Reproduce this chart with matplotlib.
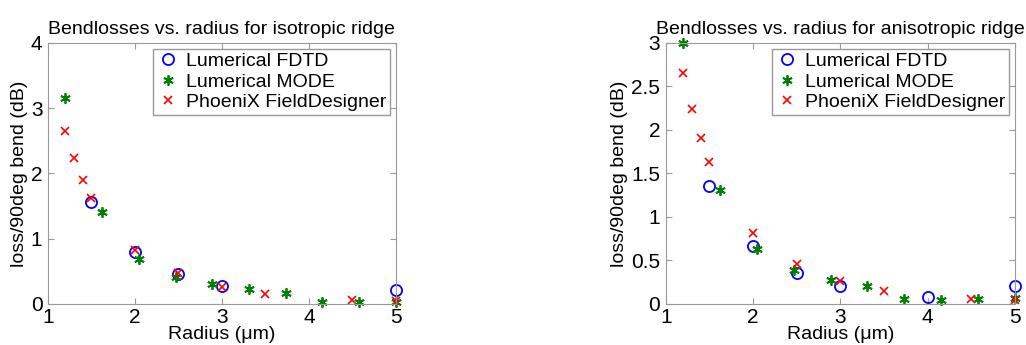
import matplotlib
matplotlib.use("Agg")
import matplotlib.pyplot as plt

plt.rcParams['font.family'] = ['Liberation Sans', 'DejaVu Sans']

# isotropic ridge
iso_fdtd_r = [1.5, 2.0, 2.5, 3.0, 5.0]
iso_fdtd_loss = [1.56, 0.79, 0.46, 0.27, 0.22]
iso_mode_r = [1.2, 1.622, 2.044, 2.467, 2.889, 3.311, 3.733, 4.156, 4.578, 5.0]
iso_mode_loss = [3.15, 1.41, 0.69, 0.41, 0.31, 0.23, 0.16, 0.03, 0.03, 0.035]
iso_phx_r = [1.2, 1.3, 1.4, 1.5, 2.0, 2.5, 3.0, 3.5, 4.5, 5.0]
iso_phx_loss = [2.65, 2.24, 1.90, 1.63, 0.82, 0.47, 0.265, 0.15, 0.06, 0.045]

# anisotropic ridge
ani_fdtd_r = [1.5, 2.0, 2.5, 3.0, 4.0, 5.0]
ani_fdtd_loss = [1.35, 0.67, 0.356, 0.21, 0.08, 0.207]
ani_mode_r = [1.2, 1.622, 2.044, 2.467, 2.889, 3.311, 3.733, 4.156, 4.578, 5.0]
ani_mode_loss = [3.0, 1.31, 0.635, 0.39, 0.276, 0.203, 0.054, 0.05, 0.06, 0.07]
ani_phx_r = [1.2, 1.3, 1.4, 1.5, 2.0, 2.5, 3.0, 3.5, 4.5, 5.0]
ani_phx_loss = [2.65, 2.24, 1.906, 1.626, 0.82, 0.46, 0.264, 0.15, 0.057, 0.042]

labels = ['Lumerical FDTD', 'Lumerical MODE', 'PhoeniX FieldDesigner']
asterisk = (6, 2, 0)


def plot_panel(ax, fdtd, mode, phx, title, ylim, yticks):
    ax.plot(fdtd[0], fdtd[1], 'o', mfc='none', mec='blue', mew=1.3, ms=8, label=labels[0])
    ax.plot(mode[0], mode[1], marker=asterisk, ls='none', mec='green', mfc='green', mew=1.3, ms=7.5, label=labels[1])
    ax.plot(phx[0], phx[1], 'x', color='red', mew=1.2, ms=6, label=labels[2])
    ax.set_xlim(1, 5)
    ax.set_ylim(*ylim)
    ax.set_xticks([1, 2, 3, 4, 5])
    ax.set_yticks(yticks)
    ax.set_yticklabels([f'{t:g}' for t in yticks])
    ax.tick_params(direction='in', top=True, right=True, labelsize=15, length=4,
                   color='#999999')
    ax.tick_params(axis='x', pad=3)
    ax.tick_params(axis='y', pad=4)
    for s in ax.spines.values():
        s.set_color('#999999')
    ax.set_title(title, fontsize=14, pad=6)
    ax.set_xlabel('Radius (\u03bcm)', fontsize=14, labelpad=-1)
    ax.set_ylabel('loss/90deg bend (dB)', fontsize=14, labelpad=2)
    leg = ax.legend(loc='upper right', fontsize=14, fancybox=False, framealpha=1,
                    edgecolor='#999999', handletextpad=0.3, borderpad=0.2,
                    labelspacing=0.15, handlelength=1.2, borderaxespad=0.3)
    leg.get_frame().set_linewidth(1.0)
    for line in ax.get_lines():
        line.set_clip_on(False)


fig = plt.figure(figsize=(10.26, 3.45), dpi=100)
ax1 = fig.add_axes([0.0468, 0.119, 0.339, 0.757])
ax2 = fig.add_axes([0.649, 0.119, 0.340, 0.757])

plot_panel(ax1, (iso_fdtd_r, iso_fdtd_loss), (iso_mode_r, iso_mode_loss),
           (iso_phx_r, iso_phx_loss), 'Bendlosses vs. radius for isotropic ridge',
           (0, 4), [0, 1, 2, 3, 4])
plot_panel(ax2, (ani_fdtd_r, ani_fdtd_loss), (ani_mode_r, ani_mode_loss),
           (ani_phx_r, ani_phx_loss), 'Bendlosses vs. radius for anisotropic ridge',
           (0, 3), [0, 0.5, 1, 1.5, 2, 2.5, 3])

fig.savefig('out.png', dpi=100)
